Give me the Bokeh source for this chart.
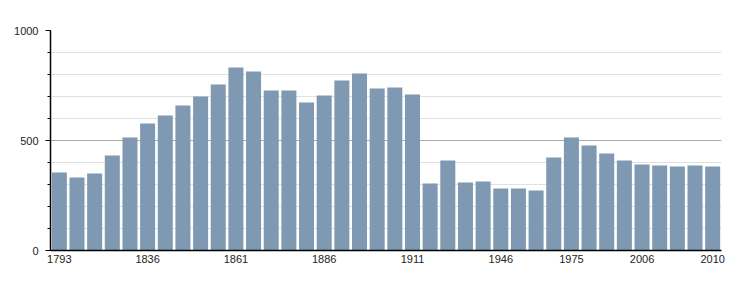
from bokeh.plotting import figure
from bokeh.models import Range1d, FixedTicker, ColumnDataSource
from bokeh.embed import file_html
from bokeh.resources import INLINE

years = [1793, 1800, 1806, 1821, 1831, 1836, 1841, 1846, 1851, 1856, 1861, 1866,
         1872, 1876, 1881, 1886, 1891, 1896, 1901, 1906, 1911, 1921, 1926, 1931,
         1936, 1946, 1954, 1962, 1968, 1975, 1982, 1990, 1999, 2006, 2007, 2008,
         2009, 2010]
population = [355, 332, 350, 432, 514, 577, 614, 659, 700, 755, 832, 814,
              727, 727, 673, 705, 773, 805, 736, 741, 709, 305, 409, 309,
              314, 282, 282, 273, 423, 514, 477, 441, 409, 391, 386, 382,
              386, 382]
labelled_years = [1793, 1836, 1861, 1886, 1911, 1946, 1975, 2006, 2010]
y_major = [0, 500, 1000]
y_minor = [0, 100, 200, 300, 400, 500, 600, 700, 800, 900, 1000]

idx = list(range(len(years)))
src = ColumnDataSource(dict(x=idx, top=population))

p = figure(width=750, height=300, output_backend="svg", toolbar_location=None,
           x_range=Range1d(-0.5, len(years) - 0.5), y_range=Range1d(0, 1000),
           min_border_left=50, min_border_right=29, min_border_top=30,
           min_border_bottom=50)
p.outline_line_color = None
p.background_fill_color = "white"

p.vbar(x="x", top="top", bottom=0, width=0.85, source=src,
       fill_color="#7f99b2", line_color=None)

tick_pos = [years.index(y) for y in labelled_years]
p.xaxis.ticker = FixedTicker(ticks=tick_pos)
p.xaxis.major_label_overrides = {i: str(years[i]) for i in tick_pos}
p.xaxis.major_tick_line_color = None
p.xaxis.major_tick_out = 0
p.xaxis.major_tick_in = 0
p.xaxis.minor_tick_line_color = None
p.xaxis.minor_tick_out = 0
p.xaxis.major_label_standoff = 4
p.xaxis.axis_line_color = "black"
p.xaxis.axis_line_width = 1.5

p.yaxis.ticker = FixedTicker(ticks=y_major, minor_ticks=y_minor)
p.yaxis.major_tick_out = 5
p.yaxis.major_tick_in = 0
p.yaxis.minor_tick_out = 3
p.yaxis.minor_tick_in = 0
p.yaxis.axis_line_color = "black"
p.yaxis.axis_line_width = 1.5
p.yaxis.major_label_standoff = 7

for ax in (p.xaxis, p.yaxis):
    ax.major_label_text_font = "Liberation Sans"
    ax.major_label_text_font_size = "11px"
    ax.major_label_text_color = "#222222"

p.xgrid.grid_line_color = None
p.ygrid.grid_line_color = "#aaaaaa"
p.ygrid.minor_grid_line_color = "#e0e0e0"

open("out.html", "w").write(file_html(p, INLINE))
